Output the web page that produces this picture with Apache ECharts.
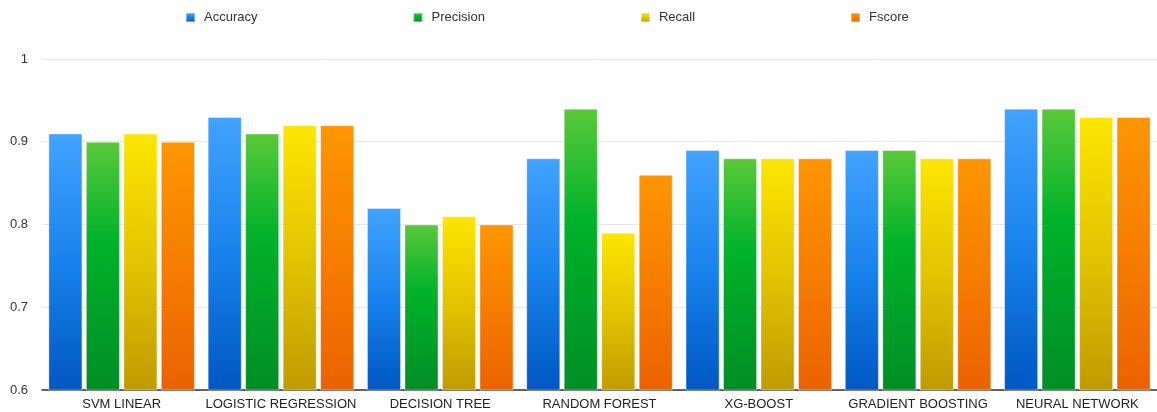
<!DOCTYPE html>
<html>
<head>
<meta charset="utf-8">
<script src="https://cdn.jsdelivr.net/npm/echarts@6/dist/echarts.min.js"></script>
<style>
  html, body { margin: 0; padding: 0; background: #fff; }
  #chart { width: 1157px; height: 412px; }
</style>
</head>
<body>
<div id="chart"></div>
<script>
// Model names along the x axis
const models = ['SVM LINEAR', 'LOGISTIC REGRESSION', 'DECISION TREE', 'RANDOM FOREST', 'XG-BOOST', 'GRADIENT BOOSTING', 'NEURAL NETWORK'];

// Scores per metric, one value per model
const accuracy  = [0.91, 0.93, 0.82, 0.88, 0.89, 0.89, 0.94];
const precision = [0.90, 0.91, 0.80, 0.94, 0.88, 0.89, 0.94];
const recall    = [0.91, 0.92, 0.81, 0.79, 0.88, 0.88, 0.93];
const fscore    = [0.90, 0.92, 0.80, 0.86, 0.88, 0.88, 0.93];

// Y axis range and step
const yMin = 0.6, yMax = 1, yStep = 0.1;

function grad(stops) {
  return new echarts.graphic.LinearGradient(0, 0, 0, 1,
    stops.map(([offset, color]) => ({ offset, color })));
}

const palette = {
  Accuracy:  grad([[0, '#42a3ff'], [0.5, '#1882ec'], [1, '#0057c2']]),
  Precision: grad([[0, '#5ac93a'], [0.4, '#00b22a'], [1, '#008e26']]),
  Recall:    grad([[0, '#fde600'], [0.5, '#e2c400'], [1, '#c09b00']]),
  Fscore:    grad([[0, '#fe9600'], [0.5, '#f67d00'], [1, '#eb6200']])
};

const metrics = [['Accuracy', accuracy], ['Precision', precision], ['Recall', recall], ['Fscore', fscore]];

const chart = echarts.init(document.getElementById('chart'), null, { renderer: 'canvas' });

chart.setOption({
  animation: false,
  backgroundColor: '#ffffff',
  textStyle: { fontFamily: 'Liberation Sans, Arial, sans-serif' },
  legend: {
    left: 185,
    top: 11,
    padding: 0,
    itemWidth: 9,
    itemHeight: 9,
    itemGap: 155,
    icon: 'rect',
    textStyle: { fontSize: 13, color: '#333', padding: [0, 0, 0, 4] },
    data: metrics.map(m => m[0])
  },
  grid: { left: 42, top: 59, width: 1120, height: 331, containLabel: false },
  xAxis: {
    type: 'category',
    data: models,
    axisTick: { show: false },
    axisLine: { lineStyle: { color: '#333', width: 1.5 } },
    axisLabel: { fontSize: 13, color: '#222', margin: 8, interval: 0 }
  },
  yAxis: {
    type: 'value',
    min: yMin,
    max: yMax,
    interval: yStep,
    axisLine: { show: false },
    axisTick: { show: false },
    axisLabel: {
      fontSize: 13, color: '#333', margin: 14,
      formatter: v => String(Math.round(v * 10) / 10)
    },
    splitLine: { lineStyle: { color: '#e6e6e6', width: 1 } }
  },
  series: metrics.map(([name, values]) => ({
    name,
    type: 'bar',
    data: values,
    barGap: '10%',
    barCategoryGap: '8%',
    itemStyle: {
      color: palette[name],
      borderColor: 'rgba(255,255,255,0.4)',
      borderWidth: 1
    }
  }))
});
</script>
</body>
</html>
